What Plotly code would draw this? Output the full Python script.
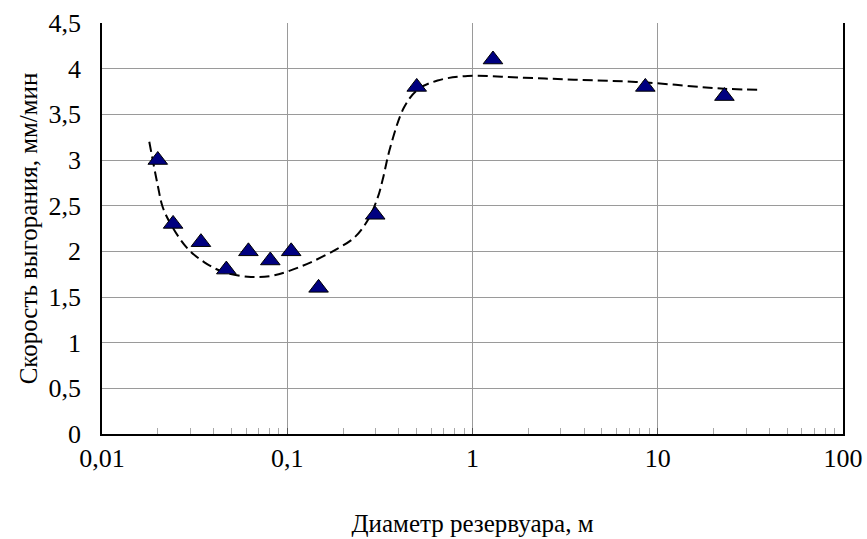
import plotly.graph_objects as go

# measured points
diameter_m = [0.020, 0.0242, 0.0342, 0.0469, 0.0617, 0.081, 0.105, 0.1476, 0.2985, 0.50, 1.29, 8.57, 22.9]
burn_rate = [3.0, 2.3, 2.1, 1.8, 2.0, 1.9, 2.0, 1.6, 2.4, 3.8, 4.1, 3.8, 3.7]

# dashed trend curve
trend_x = [0.0180, 0.0200, 0.0213, 0.0241, 0.0290, 0.0357, 0.0457, 0.0637, 0.0817, 0.1005,
           0.134, 0.187, 0.230, 0.272, 0.308, 0.327, 0.360, 0.428, 0.506, 0.648,
           0.942, 1.90, 3.53, 8.43, 22.8, 36.4]
trend_y = [3.20, 2.72, 2.48, 2.26, 2.03, 1.88, 1.77, 1.72, 1.73, 1.78,
           1.88, 2.03, 2.15, 2.34, 2.59, 2.78, 3.14, 3.58, 3.77, 3.87,
           3.92, 3.90, 3.88, 3.85, 3.78, 3.77]

x_tickvals = [0.01, 0.1, 1, 10, 100]
x_ticktext = ["0,01", "0,1", "1", "10", "100"]
y_tickvals = [0, 0.5, 1, 1.5, 2, 2.5, 3, 3.5, 4, 4.5]
y_ticktext = ["0", "0,5", "1", "1,5", "2", "2,5", "3", "3,5", "4", "4,5"]

x_title = "Диаметр резервуара, м"
y_title = "Скорость выгорания, мм/мин"

FONT = "Liberation Serif, Times New Roman, serif"

fig = go.Figure()
fig.add_trace(go.Scatter(
    x=trend_x, y=trend_y, mode="lines",
    line=dict(color="black", width=2, dash="10px,5px", shape="spline", smoothing=1.0),
    hoverinfo="skip", showlegend=False,
))
fig.add_trace(go.Scatter(
    x=diameter_m, y=burn_rate, mode="markers",
    marker=dict(symbol="triangle-up", size=17, color="#000080",
                line=dict(color="black", width=1)),
    showlegend=False,
))

fig.update_layout(
    template="none",
    width=867, height=539,
    margin=dict(l=102, r=24, t=23, b=105),
    paper_bgcolor="white", plot_bgcolor="white",
    font=dict(family=FONT, size=26, color="black"),
)
fig.update_xaxes(
    type="log", range=[-2, 2],
    tickvals=x_tickvals, ticktext=x_ticktext,
    tickfont=dict(size=26, family=FONT, color="black"),
    showgrid=True, gridcolor="#9a9a9a", gridwidth=1,
    showline=True, linecolor="black", linewidth=1.5,
    ticks="inside", ticklen=6, tickcolor="#555555",
    minor=dict(ticks="inside", ticklen=6, tickcolor="#aaaaaa", dtick="D1", showgrid=False),
    zeroline=False,
    title=dict(text=x_title, font=dict(size=25, family=FONT, color="black"), standoff=43),
)
fig.update_yaxes(
    range=[0, 4.5],
    tickvals=y_tickvals, ticktext=y_ticktext,
    tickfont=dict(size=26, family=FONT, color="black"),
    showgrid=True, gridcolor="#9a9a9a", gridwidth=1,
    showline=True, linecolor="black", linewidth=1.5, mirror=True,
    ticks="", ticklabelstandoff=14,
    zeroline=False,
    title=dict(text=y_title, font=dict(size=25, family=FONT, color="black"), standoff=4),
)

fig.write_html("out.html")
